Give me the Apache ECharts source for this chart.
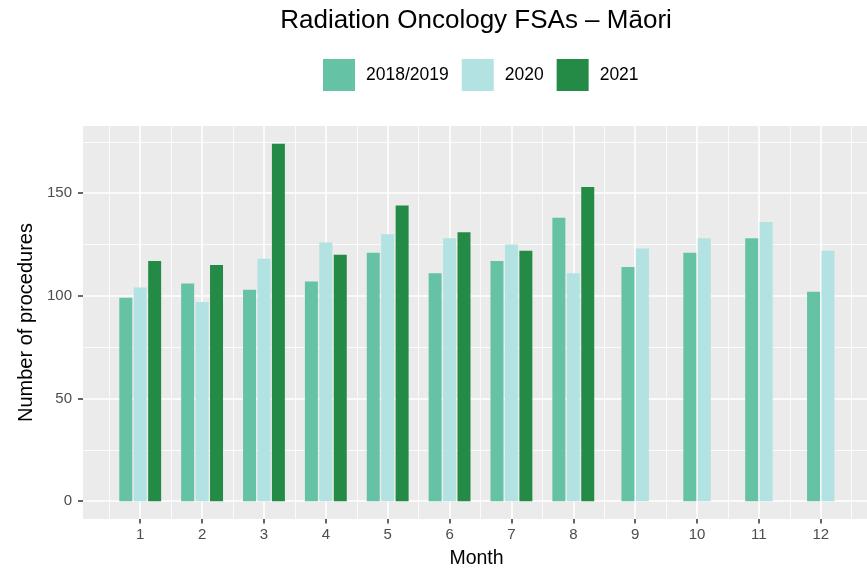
<!DOCTYPE html>
<html>
<head>
<meta charset="utf-8">
<title>Radiation Oncology FSAs – Māori</title>
<script src="https://cdn.jsdelivr.net/npm/echarts@6/dist/echarts.min.js"></script>
<style>
  html, body { margin: 0; padding: 0; background: #ffffff; }
  #chart { width: 867px; height: 571px; }
</style>
</head>
<body>
<div id="chart"></div>
<script>
// Monthly first specialist assessments, by period
const months = [1, 2, 3, 4, 5, 6, 7, 8, 9, 10, 11, 12];
const monthLabels = ['1', '2', '3', '4', '5', '6', '7', '8', '9', '10', '11', '12'];
const yTicks = [0, 50, 100, 150];
const yMinorTicks = [25, 75, 125, 175];

const seriesNames = ['2018/2019', '2020', '2021'];
const values2018 = [99, 106, 103, 107, 121, 111, 117, 138, 114, 121, 128, 102];
const values2020 = [104, 97, 118, 126, 130, 128, 125, 111, 123, 128, 136, 122];
const values2021 = [117, 115, 174, 120, 144, 131, 122, 153, null, null, null, null];
const colors = ['#66C2A5', '#B2E2E2', '#238B45'];

const allValues = [values2018, values2020, values2021];
const FONT = 'Liberation Sans, Arial, Helvetica, sans-serif';

// dodge layout: each bar gets one slot of the total dodge width, bars present
// in a month are centred on that month
const DODGE = 0.7;
const SLOT = DODGE / allValues.length;
const BAR = SLOT * 0.9;

function makeRender(seriesIdx) {
  return function (params, api) {
    const month = api.value(0);
    const v = api.value(1);
    const mi = months.indexOf(month);
    const present = [];
    allValues.forEach((arr, i) => { if (arr[mi] != null) present.push(i); });
    const n = present.length;
    const k = present.indexOf(seriesIdx);
    const xc = month + (k - (n - 1) / 2) * SLOT;
    const top = api.coord([xc, v]);
    const base = api.coord([xc, 0]);
    const w = api.size([BAR, 0])[0];
    return {
      type: 'rect',
      shape: { x: top[0] - w / 2, y: top[1], width: w, height: base[1] - top[1] },
      style: { fill: api.visual('color') }
    };
  };
}

const series = allValues.map((arr, i) => ({
  name: seriesNames[i],
  type: 'custom',
  xAxisIndex: 0,
  yAxisIndex: 0,
  itemStyle: { color: colors[i] },
  encode: { x: 0, y: 1 },
  renderItem: makeRender(i),
  data: months.map((m, j) => [m, arr[j]]).filter(d => d[1] != null)
}));

const minorX = months.map(m => m - 0.5).concat([months[months.length - 1] + 0.5]);

const chart = echarts.init(document.getElementById('chart'), null, { renderer: 'canvas' });
chart.setOption({
  animation: false,
  backgroundColor: '#ffffff',
  textStyle: { fontFamily: FONT },
  title: {
    text: 'Radiation Oncology FSAs – Māori',
    left: 476,
    textAlign: 'center',
    top: 8,
    padding: 0,
    textStyle: { fontFamily: FONT, fontSize: 26, fontWeight: 'normal', color: '#000000' }
  },
  legend: {
    data: seriesNames,
    left: 323,
    top: 59,
    padding: 0,
    icon: 'rect',
    itemWidth: 32,
    itemHeight: 32,
    itemGap: 13,
    textStyle: { fontFamily: FONT, fontSize: 17.5, color: '#000000', padding: [0, 0, 0, 6] }
  },
  grid: {
    left: 83,
    width: 795,
    top: 126,
    bottom: 52,
    show: true,
    backgroundColor: '#EBEBEB',
    borderWidth: 0,
    containLabel: false,
    outerBoundsMode: 'none'
  },
  xAxis: [
    {
      type: 'value',
      min: 0.075,
      max: 12.925,
      position: 'bottom',
      name: 'Month',
      nameLocation: 'middle',
      nameGap: 30,
      nameTextStyle: { fontFamily: FONT, fontSize: 19.5, color: '#000000', padding: [0, 8, 0, 0] },
      axisLine: { show: false, onZero: false },
      axisTick: { show: true, length: 4.5, customValues: months, lineStyle: { color: '#333333', width: 1.5 } },
      axisLabel: {
        customValues: months,
        margin: 8,
        fontFamily: FONT,
        fontSize: 15,
        color: '#4D4D4D',
        formatter: v => monthLabels[months.indexOf(v)]
      },
      splitLine: { show: true, lineStyle: { color: '#ffffff', width: 1.6 } }
    },
    {
      type: 'value',
      min: 0.075,
      max: 12.925,
      position: 'bottom',
      axisLine: { show: false, onZero: false },
      axisTick: { show: false, customValues: minorX },
      axisLabel: { show: false, customValues: minorX },
      splitLine: { show: true, lineStyle: { color: '#ffffff', width: 0.8 } }
    }
  ],
  yAxis: [
    {
      type: 'value',
      min: -8.7,
      max: 182.7,
      name: 'Number of procedures',
      nameLocation: 'middle',
      nameGap: 39,
      nameRotate: 90,
      nameTextStyle: { fontFamily: FONT, fontSize: 20, color: '#000000' },
      axisLine: { show: false, onZero: false },
      axisTick: { show: true, length: 5, customValues: yTicks, lineStyle: { color: '#333333', width: 1.5 } },
      axisLabel: { customValues: yTicks, margin: 11, fontFamily: FONT, fontSize: 15, color: '#4D4D4D' },
      splitLine: { show: true, lineStyle: { color: '#ffffff', width: 1.6 } }
    },
    {
      type: 'value',
      min: -8.7,
      max: 182.7,
      position: 'left',
      axisLine: { show: false, onZero: false },
      axisTick: { show: false, customValues: yMinorTicks },
      axisLabel: { show: false, customValues: yMinorTicks },
      splitLine: { show: true, lineStyle: { color: '#ffffff', width: 0.8 } }
    }
  ],
  series: series
});
</script>
</body>
</html>
